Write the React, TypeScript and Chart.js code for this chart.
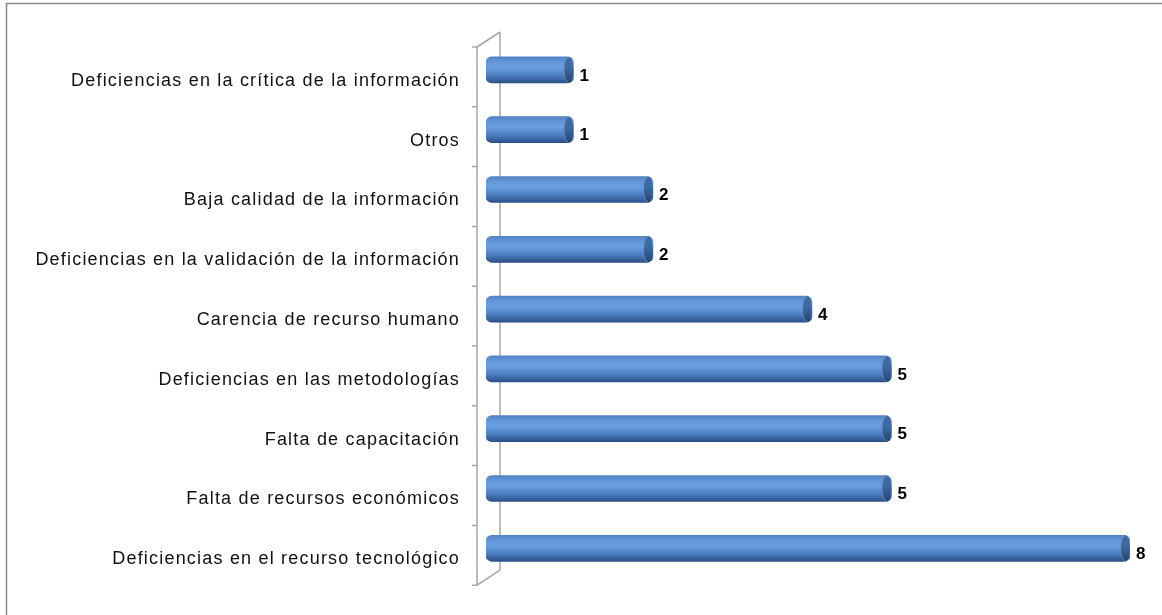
import React, { useEffect, useRef } from "react";
import { Chart, registerables } from "chart.js";

Chart.register(...registerables);

const categories = [
  "Deficiencias en la crítica de la información",
  "Otros",
  "Baja calidad de la información",
  "Deficiencias en la validación de la información",
  "Carencia de recurso humano",
  "Deficiencias en las metodologías",
  "Falta de capacitación",
  "Falta de recursos económicos",
  "Deficiencias en el recurso tecnológico",
];
const values = [1, 1, 2, 2, 4, 5, 5, 5, 8];

const BAR_H = 26;

function barGradient(chart: any, y: number, stops: [number, string][]) {
  const g = chart.ctx.createLinearGradient(0, y - BAR_H / 2, 0, y + BAR_H / 2);
  stops.forEach(([o, c]) => g.addColorStop(o, c));
  return g;
}

const bodyStops: [number, string][] = [
  [0, "#5282c4"],
  [0.18, "#6296d8"],
  [0.4, "#6a9fdf"],
  [0.7, "#4d80c3"],
  [1, "#2b5089"],
];
const capStops: [number, string][] = [
  [0, "#40689f"],
  [0.4, "#3d6aa6"],
  [1, "#25446f"],
];

const decoPlugin = {
  id: "deco",
  beforeUpdate(chart: any) {
    chart.ctx.letterSpacing = "1.2px";
  },
  beforeDraw(chart: any) {
    const ctx = chart.ctx;
    ctx.save();
    ctx.strokeStyle = "#8a8a8a";
    ctx.lineWidth = 1.5;
    ctx.strokeRect(6.5, 3.5, 1300, 800);
    ctx.restore();
  },
  beforeDatasetsDraw(chart: any) {
    const ctx = chart.ctx;
    const area = chart.chartArea;
    const n = categories.length;
    const band = (area.bottom - area.top) / n;
    const fx = area.left - 9;
    const bx = area.left + 14;
    const fTop = area.top + 7;
    const fBot = area.bottom + 7;
    const bTop = area.top - 8;
    const bBot = area.bottom - 8;
    ctx.save();
    ctx.strokeStyle = "#a6a6a6";
    ctx.lineWidth = 1.5;
    ctx.beginPath();
    ctx.moveTo(fx, fTop);
    ctx.lineTo(fx, fBot);
    ctx.moveTo(bx, bTop);
    ctx.lineTo(bx, bBot);
    ctx.moveTo(fx, fTop);
    ctx.lineTo(bx, bTop);
    ctx.moveTo(fx, fBot);
    ctx.lineTo(bx, bBot);
    for (let i = 0; i <= n; i++) {
      const ty = fTop + i * band;
      ctx.moveTo(fx - 5, ty);
      ctx.lineTo(fx, ty);
    }
    ctx.stroke();
    ctx.restore();
  },
  afterDatasetsDraw(chart: any) {
    const ctx = chart.ctx;
    const meta = chart.getDatasetMeta(0);
    ctx.save();
    meta.data.forEach((bar: any, i: number) => {
      const rx = 5;
      const cx = bar.x - rx;
      ctx.beginPath();
      ctx.ellipse(cx, bar.y, rx, BAR_H / 2, 0, 0, Math.PI * 2);
      ctx.fillStyle = barGradient(chart, bar.y, capStops);
      ctx.fill();
      ctx.strokeStyle = "rgba(140,175,220,0.6)";
      ctx.lineWidth = 1;
      ctx.beginPath();
      ctx.ellipse(cx, bar.y, rx - 0.5, BAR_H / 2 - 0.5, 0, Math.PI / 2, Math.PI * 1.5);
      ctx.stroke();
      ctx.fillStyle = "#000";
      ctx.font = "bold 17px 'Liberation Sans', Arial, sans-serif";
      ctx.textAlign = "left";
      ctx.textBaseline = "middle";
      ctx.letterSpacing = "0px";
      ctx.fillText(String(values[i]), bar.x + 6, bar.y + 6);
    });
    ctx.restore();
  },
};

export default function App() {
  const ref = useRef<HTMLCanvasElement | null>(null);
  useEffect(() => {
    if (!ref.current) return;
    const chart = new Chart(ref.current, {
      type: "bar",
      data: {
        labels: categories,
        datasets: [
          {
            data: values,
            base: -0.1,
            barThickness: BAR_H,
            borderSkipped: false,
            borderRadius: 6,
            backgroundColor: (c: any) => {
              const ch = c.chart;
              if (!ch.scales || !ch.scales.y) return "#5282c4";
              const y = ch.scales.y.getPixelForValue(c.dataIndex);
              if (!isFinite(y)) return "#5282c4";
              return barGradient(ch, y, bodyStops);
            },
          },
        ],
      },
      options: {
        indexAxis: "y",
        animation: false,
        responsive: false,
        maintainAspectRatio: false,
        layout: { padding: { top: 40, bottom: 29, right: 32, left: 0 } },
        plugins: { legend: { display: false }, tooltip: { enabled: false }, title: { display: false } },
        scales: {
          x: {
            min: -0.1,
            max: 8,
            display: false,
          },
          y: {
            grid: { display: false, drawTicks: false },
            border: { display: false },
            afterFit: (s: any) => {
              s.width = 486;
            },
            ticks: {
              padding: 26,
              labelOffset: 11,
              color: "#111111",
              font: { size: 18, family: "'Liberation Sans', Arial, sans-serif" },
            },
          },
        },
      },
      plugins: [decoPlugin],
    });
    chart.update();
    return () => chart.destroy();
  }, []);
  return (
    <div style={{ position: "absolute", left: 0, top: 0, width: 1162, height: 615, background: "#fff" }}>
      <canvas ref={ref} width={1162} height={615} style={{ display: "block" }} />
    </div>
  );
}
